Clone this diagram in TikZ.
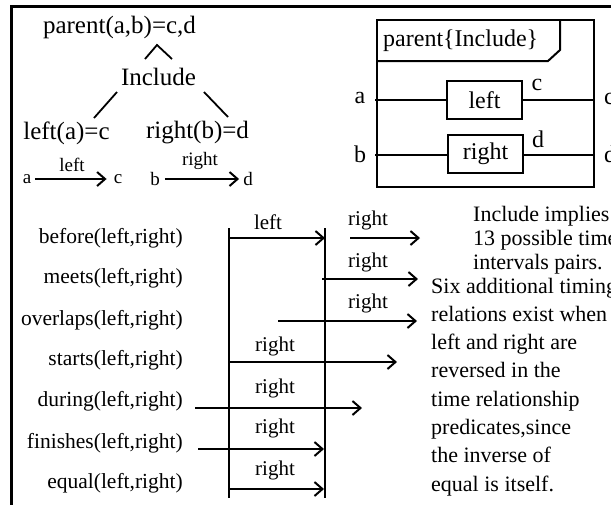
\documentclass[tikz,border=0pt]{standalone}
\usepackage{fontspec}
\setmainfont{Liberation Serif}
\usetikzlibrary{arrows.meta}
\tikzset{
  big/.style={font=\fontsize{25}{30}\selectfont, inner sep=0pt},
  mid/.style={font=\fontsize{24}{28}\selectfont, inner sep=0pt},
  small/.style={font=\fontsize{19}{23}\selectfont, inner sep=0pt},
  rel/.style={font=\fontsize{21.5}{26}\selectfont, inner sep=0pt, anchor=east},
  tl/.style={font=\fontsize{21}{25}\selectfont, inner sep=0pt},
  note/.style={font=\fontsize{22}{26}\selectfont, inner sep=0pt, anchor=base west},
  arr/.style={line width=2pt, -{Straight Barb[length=8pt,width=14pt]}},
  thinline/.style={line width=1.1pt},
  treeline/.style={line width=1.8pt},
  smallbox/.style={draw, line width=2pt, minimum width=75pt, minimum height=38pt, inner sep=0pt},
}
\begin{document}
\begin{tikzpicture}[x=1pt,y=-1pt]
\useasboundingbox (0,0) rectangle (611,504);
\clip (0,0) rectangle (611,504);
% outer frame
\draw[line width=3pt] (11.5,6) rectangle (700,600);

% ---- tree (top left)
\node[big] (par) at (119.5,27) {parent(a,b)=c,d};
\node[big] (inc) at (158.5,77) {Include};
\node[big] (lf) at (66.5,133) {left(a)=c};
\node[big] (rt) at (197.5,133) {right(b)=d};
\coordinate (capL) at (145,59);
\coordinate (capT) at (157,45);
\coordinate (capR) at (172,59);
\draw[treeline] (capL) -- (capT) -- (capR);
\coordinate (l1) at (117,92);
\coordinate (l2) at (94,118);
\coordinate (r1) at (204,92);
\coordinate (r2) at (228,117);
\draw[treeline] (l1) -- (l2);
\draw[treeline] (r1) -- (r2);

% small arrows
\node[small] (sa) at (27,179) {a};
\node[small] (sc) at (118,179) {c};
\node[small] (sleft) at (72,165) {left};
\draw[arr] ([xshift=3.5pt]sa.east) -- ([xshift=-7pt]sc.west);
\node[small] (sb) at (155,179) {b};
\node[small] (sd) at (248,179) {d};
\node[small] (sright) at (200,161) {right};
\draw[arr] ([xshift=5pt]sb.east) -- ([xshift=-4pt]sd.west);

% ---- parent{Include} frame (top right)
\draw[line width=2pt] (377,20) rectangle (594,187);
\coordinate (tabA) at (377,61);
\coordinate (tabB) at (548,61);
\coordinate (tabC) at (560,50);
\coordinate (tabD) at (560,20);
\draw[line width=2pt] (tabA) -- (tabB) -- (tabC) -- (tabD);
\node[mid, anchor=west] (ptitle) at (383,41) {parent\{Include\}};
\node[smallbox, mid] (lbox) at (484.5,100) {left};
\node[smallbox, mid] (rbox) at (485.5,154) {right};
\node[mid] (ina) at (360,98) {a};
\node[mid] (inb) at (360,154) {b};
\coordinate (aIn) at (375,100);
\coordinate (bIn) at (375,155);
\coordinate (cOut) at (594,100);
\coordinate (dOut) at (594,155);
\draw[thinline] (aIn) -- (lbox.west);
\draw[thinline] (bIn) -- (rbox.west |- bIn);
\draw[thinline] (lbox.east) -- (cOut);
\draw[thinline] (rbox.east |- dOut) -- (dOut);
\node[mid] (cl) at (537,85) {c};
\node[mid] (dl) at (538,139) {d};
\node[mid, anchor=west] (co) at (604,99) {c};
\node[mid, anchor=west] (dd) at (604,154) {d};

% ---- time relations (bottom)
\coordinate (v1t) at (229,228);
\coordinate (v1b) at (229,498);
\coordinate (v2t) at (325,228);
\coordinate (v2b) at (325,498);
\draw[thinline] (v1t) -- (v1b);
\draw[thinline] (v2t) -- (v2b);

\node[rel] (q1) at (183,238) {before(left,right)};
\node[rel] (q2) at (183,278) {meets(left,right)};
\node[rel] (q3) at (183,320) {overlaps(left,right)};
\node[rel] (q4) at (183,360) {starts(left,right)};
\node[rel] (q5) at (183,401) {during(left,right)};
\node[rel] (q6) at (183,443) {finishes(left,right)};
\node[rel] (q7) at (183,483) {equal(left,right)};

% left interval
\node[tl] (tleft) at (268,222) {left};
\coordinate (L1s) at (229,238);
\coordinate (L1e) at (325,238);
\draw[arr] (L1s) -- (L1e);
% right intervals
\node[tl] (t1) at (368,220) {right};
\node[tl] (t2) at (368,262) {right};
\node[tl] (t3) at (368,303) {right};
\node[tl] (t4) at (275,346) {right};
\node[tl] (t5) at (275,388) {right};
\node[tl] (t6) at (275,428) {right};
\node[tl] (t7) at (275,470) {right};
\coordinate (R1s) at (350,238);  \coordinate (R1e) at (420,238);
\coordinate (R2s) at (322,279);  \coordinate (R2e) at (418,279);
\coordinate (R3s) at (278,321);  \coordinate (R3e) at (417,321);
\coordinate (R4s) at (229,362);  \coordinate (R4e) at (397,362);
\coordinate (R5s) at (195,408);  \coordinate (R5e) at (362,408);
\coordinate (R6s) at (198,449);  \coordinate (R6e) at (324,449);
\coordinate (R7s) at (229,489);  \coordinate (R7e) at (324,489);
\draw[arr] (R1s) -- (R1e);
\draw[arr] (R2s) -- (R2e);
\draw[arr] (R3s) -- (R3e);
\draw[arr] (R4s) -- (R4e);
\draw[arr] (R5s) -- (R5e);
\draw[arr] (R6s) -- (R6e);
\draw[arr] (R7s) -- (R7e);

% ---- notes
\node[note] (n1) at (473,221) {Include implies};
\node[note] (n2) at (473,245) {13 possible time};
\node[note] (n3) at (473,269) {intervals pairs.};
\node[note] (n4) at (431,293) {Six additional timing};
\node[note] (n5) at (431,321.3) {relations exist when};
\node[note] (n6) at (431,349.6) {left and right are};
\node[note] (n7) at (431,377.9) {reversed in the};
\node[note] (n8) at (431,406.1) {time relationship};
\node[note] (n9) at (431,434.4) {predicates,since};
\node[note] (n10) at (431,462.7) {the inverse of};
\node[note] (n11) at (431,491) {equal is itself.};
\end{tikzpicture}
\end{document}
